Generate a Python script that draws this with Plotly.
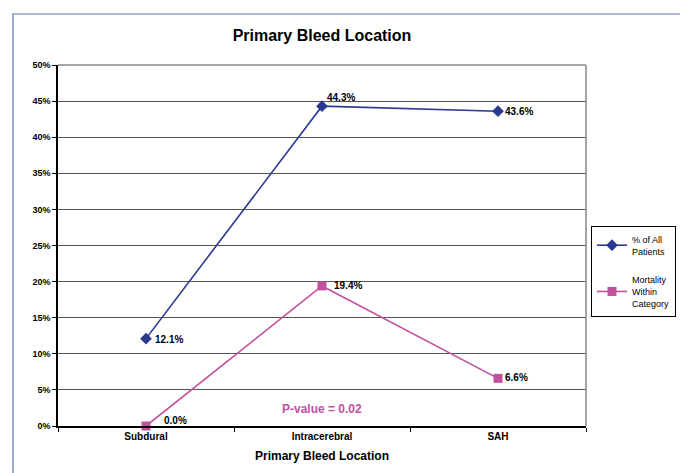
import plotly.graph_objects as go

categories = ["Subdural", "Intracerebral", "SAH"]
pct_all = [0.121, 0.443, 0.436]
mortality = [0.000, 0.194, 0.066]
pct_all_labels = ["12.1%", "44.3%", "43.6%"]
mortality_labels = ["0.0%", "19.4%", "6.6%"]

W, H = 688, 473
OFF = 8  # page offset of the figure in the window
L, T = 58 - OFF, 65 - OFF
pw, ph = 528, 361
R, B = W - L - pw, H - T - ph

def px_x(x):
    return (x - OFF - L) / pw

def px_y(y):
    return (T + ph - (y - OFF)) / ph

FONT = "Liberation Sans, Arial, sans-serif"
BLUE = "#2B3990"
PINK = "#C2509F"

fig = go.Figure()
fig.add_trace(go.Scatter(
    x=categories, y=pct_all, mode="lines+markers",
    name="% of All<br>Patients", legendgroup="a",
    line=dict(color=BLUE, width=1.6),
    marker=dict(symbol="diamond", size=9, color=BLUE),
    cliponaxis=False,
))
fig.add_trace(go.Scatter(
    x=categories, y=mortality, mode="lines+markers",
    name="Mortality<br>Within<br>Category", legendgroup="b",
    line=dict(color=PINK, width=1.6),
    marker=dict(symbol="square", size=9, color=PINK),
    cliponaxis=False,
))

# data labels (offsets in pixels relative to the point)
label_offsets_all = [(7, -1), (3, 9), (5, 0)]
label_offsets_mort = [(16, 6), (10, 0), (5, 1)]
for vals, labels, offs in ((pct_all, pct_all_labels, label_offsets_all),
                           (mortality, mortality_labels, label_offsets_mort)):
    for c, v, t, (dx, dy) in zip(categories, vals, labels, offs):
        fig.add_annotation(x=c, y=v, xref="x", yref="y", text=f"<b>{t}</b>",
                           showarrow=False, xanchor="left", yanchor="middle",
                           xshift=dx, yshift=dy,
                           font=dict(size=10, family=FONT, color="black"))

fig.update_layout(
    width=W, height=H,
    margin=dict(l=L, r=R, t=T, b=B),
    paper_bgcolor="white", plot_bgcolor="white",
    font=dict(family=FONT, color="black"),
    title=dict(text="<b>Primary Bleed Location</b>", x=(322 - OFF) / W, xanchor="center",
               y=1 - (35 - OFF) / H, yanchor="middle", font=dict(size=16, family=FONT)),
    showlegend=True,
    legend=dict(x=px_x(591), y=px_y(226), xanchor="left", yanchor="top",
                bordercolor="black", borderwidth=1, bgcolor="white",
                font=dict(size=9, family=FONT), tracegroupgap=14,
                itemwidth=30),
    xaxis=dict(type="category", range=[-0.5, 2.5], showgrid=False,
               showline=True, linecolor="black", linewidth=1.5,
               ticks="outside", tickson="boundaries", ticklen=4, tickcolor="black",
               tickfont=dict(size=10, family=FONT, weight="bold"),
               title=dict(text="<b>Primary Bleed Location</b>", font=dict(size=12, family=FONT),
                          standoff=11)),
    yaxis=dict(range=[0, 0.5], dtick=0.05, tickformat=".0%",
               showgrid=True, gridcolor="#555555", gridwidth=1,
               showline=True, linecolor="black", linewidth=1.5,
               ticks="outside", ticklen=4, tickcolor="black",
               tickfont=dict(size=9, family=FONT, weight="bold"),
               zeroline=False),
)

# plot area right/top border
fig.add_shape(type="line", xref="paper", yref="paper", x0=1, x1=1, y0=0, y1=1,
              line=dict(color="#888888", width=1.5))
fig.add_shape(type="line", xref="paper", yref="paper", x0=0, x1=1, y0=1, y1=1,
              line=dict(color="#888888", width=1.5))
# outer chart frame
fig.add_shape(type="rect", xref="paper", yref="paper",
              x0=px_x(13), x1=px_x(686), y0=px_y(500), y1=px_y(14),
              line=dict(color="#5B74B8", width=1.2))

fig.add_annotation(x=1, y=0.023, xref="x", yref="y", text="<b>P-value = 0.02</b>",
                   showarrow=False, font=dict(size=12, color=PINK, family=FONT))

fig.write_html("out.html")
